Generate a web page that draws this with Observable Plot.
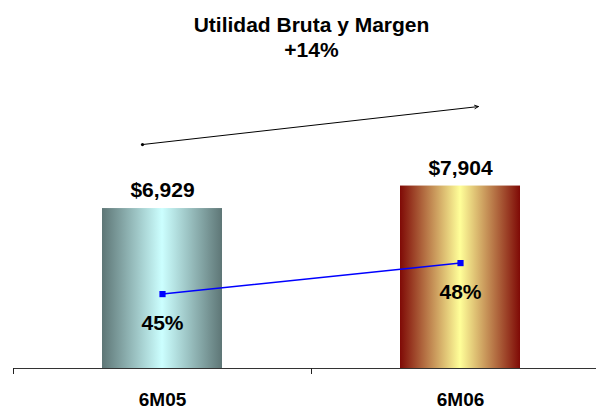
<!DOCTYPE html>
<html>
<head>
<meta charset="utf-8">
<script src="https://cdn.jsdelivr.net/npm/d3@7"></script>
<script src="https://cdn.jsdelivr.net/npm/@observablehq/plot@0.6"></script>
<style>
  html, body { margin: 0; padding: 0; background: #fff; }
  #chart svg { display: block; }
</style>
</head>
<body>
<svg width="0" height="0" style="position:absolute">
  <defs>
    <linearGradient id="grad0" x1="0" x2="1" y1="0" y2="0">
      <stop offset="0" stop-color="#5e7676"/>
      <stop offset="0.5" stop-color="#ccffff"/>
      <stop offset="1" stop-color="#5e7676"/>
    </linearGradient>
    <linearGradient id="grad1" x1="0" x2="1" y1="0" y2="0">
      <stop offset="0" stop-color="#7f0a06"/>
      <stop offset="0.5" stop-color="#ffff99"/>
      <stop offset="1" stop-color="#7f0a06"/>
    </linearGradient>
  </defs>
</svg>
<div id="chart"></div>
<script>
// ---- data ----
const periods = ["6M05", "6M06"];
const grossProfit = [6929, 7904];
const marginPct = [45, 48];
const titleLines = ["Utilidad Bruta y Margen", "+14%"];
// growth arrow annotation (data units on the primary axis)
const arrowStart = 9800;
const arrowEnd = 11260;

// ---- scales setup ----
const yMax = 12000;               // primary axis max
const secDomain = [37.8, 64.6];   // secondary (margin %) axis domain
const toPrimary = m => (m - secDomain[0]) / (secDomain[1] - secDomain[0]) * yMax;

const gradients = ["url(#grad0)", "url(#grad1)"];
const rows = periods.map((p, i) => ({
  period: p, profit: grossProfit[i], margin: marginPct[i], fill: gradients[i]
}));

const font = "'Liberation Sans', Arial, sans-serif";

const chart = Plot.plot({
  width: 596,
  height: 409,
  marginLeft: 13,
  marginRight: -13,
  marginTop: 91,
  marginBottom: 41,
  style: { fontFamily: font, background: "#fff", overflow: "visible" },
  x: { domain: periods, padding: 0 },
  y: { domain: [0, yMax], axis: null },
  color: { type: "identity" },
  marks: [
    Plot.barY(rows, { x: "period", y: "profit", fill: "fill", insetLeft: 89, insetRight: 89 }),
    Plot.text(rows, {
      x: "period", y: "profit", text: d => "$" + d3.format(",")(d.profit),
      dy: -18, fontSize: 21, fontWeight: "bold", fill: "#000"
    }),
    Plot.ruleY([0], { stroke: "#333", strokeWidth: 1.2 }),
    Plot.axisX({ tickSize: 6, tickFormat: () => "", dx: -149, stroke: "#222" }),
    Plot.axisX({ tickSize: 0, tickPadding: 24, fontSize: 19, fontWeight: "bold", fill: "#000" }),
    Plot.line(rows, { x: "period", y: d => toPrimary(d.margin), stroke: "#0000ff", strokeWidth: 1.5 }),
    Plot.dot(rows, { x: "period", y: d => toPrimary(d.margin), symbol: "square", r: 3.5, fill: "#0000ff", stroke: "none" }),
    Plot.text(rows, {
      x: "period", y: d => toPrimary(d.margin), text: d => d.margin + "%",
      dy: 29, fontSize: 21, fontWeight: "bold", fill: "#000"
    }),
    Plot.arrow([{ a: periods[0], b: periods[1] }], {
      x1: "a", x2: "b", y1: () => arrowStart, y2: () => arrowEnd,
      insetStart: -20, insetEnd: -18, headLength: 6, headAngle: 50,
      stroke: "#000", strokeWidth: 1, bend: 0
    }),
    Plot.dot([periods[0]], { x: d => d, y: () => arrowStart, dx: -20, dy: 2.3, r: 1.6, fill: "#000", stroke: "none" }),
    Plot.text([titleLines.join("\n")], {
      frameAnchor: "top", lineAnchor: "top", dy: -77, lineHeight: 1.19,
      fontSize: 21, fontWeight: "bold", fill: "#000"
    })
  ]
});

document.getElementById("chart").appendChild(chart);
</script>
</body>
</html>
